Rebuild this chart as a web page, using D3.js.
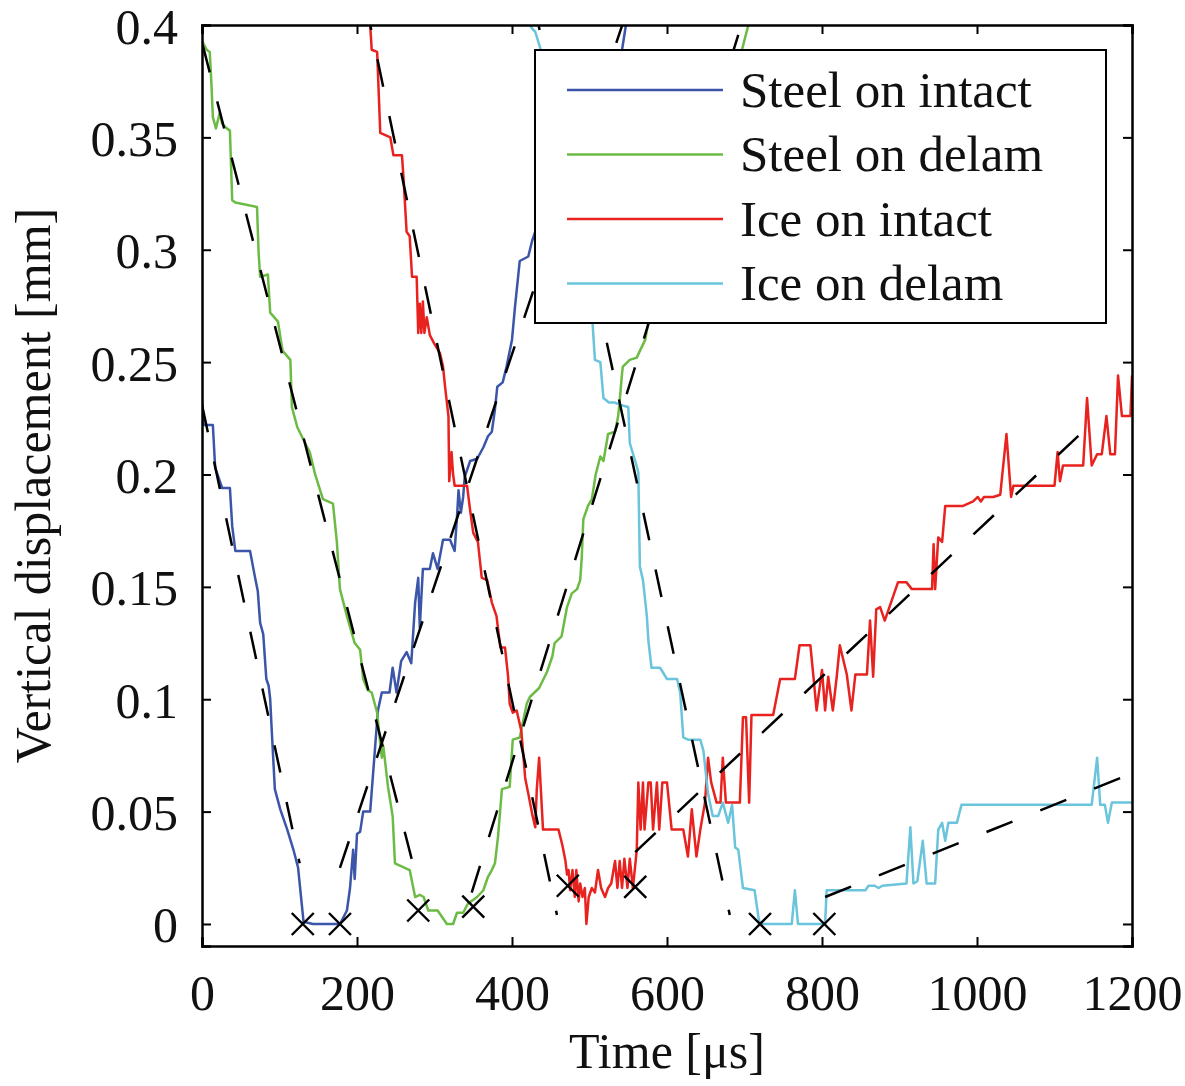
<!DOCTYPE html>
<html>
<head>
<meta charset="utf-8">
<script src="https://cdn.jsdelivr.net/npm/d3@7"></script>
<style>
  body { margin: 0; background: #fff; }
  text { font-family: "Liberation Serif", "Times New Roman", serif; fill: #111; }
</style>
</head>
<body>
<svg id="chart" width="1185" height="1086"></svg>
<script>
// tick values / labels
var xTicks = [0, 200, 400, 600, 800, 1000, 1200]
var yTicks = [0, 0.05, 0.1, 0.15, 0.2, 0.25, 0.3, 0.35, 0.4]
var yTickLabels = ["0", "0.05", "0.1", "0.15", "0.2", "0.25", "0.3", "0.35", "0.4"]

var seriesNames = ["Steel on intact", "Steel on delam", "Ice on intact", "Ice on delam"]

// [time us, displacement mm]
var steelIntact = [[0,0.233],[2,0.222],[14,0.222],[17,0.203],[26,0.194],[36,0.194],[39,0.177],[43,0.166],[62,0.166],[68,0.155],[72,0.148],[75,0.134],[79,0.129],[83,0.109],[86,0.106],[88,0.1],[90,0.086],[94,0.06],[101,0.051],[110,0.042],[118,0.033],[124,0.025],[131,0.001],[143,0],[178,0],[187,0.006],[191,0.016],[195,0.033],[197,0.02],[200,0.04],[204,0.041],[208,0.05],[217,0.05],[223,0.077],[227,0.095],[232,0.103],[242,0.103],[246,0.114],[251,0.103],[257,0.117],[264,0.121],[270,0.116],[275,0.143],[279,0.154],[281,0.132],[285,0.158],[294,0.158],[298,0.165],[304,0.158],[311,0.171],[320,0.171],[326,0.166],[329,0.181],[331,0.193],[334,0.183],[337,0.19],[339,0.199],[346,0.206],[355,0.207],[363,0.212],[369,0.217],[374,0.219],[378,0.229],[381,0.239],[388,0.241],[393,0.248],[400,0.26],[404,0.275],[410,0.295],[421,0.297],[426,0.304],[432,0.31],[450,0.32],[470,0.33],[490,0.345],[510,0.36],[530,0.375],[542,0.389],[547,0.4],[550,0.41]]

var steelDelam = [[0,0.393],[6,0.389],[10,0.388],[12,0.375],[14,0.359],[18,0.354],[23,0.361],[26,0.356],[32,0.354],[36,0.353],[39,0.322],[43,0.321],[71,0.319],[73,0.299],[75,0.288],[85,0.289],[88,0.272],[93,0.27],[98,0.268],[104,0.255],[114,0.251],[116,0.23],[123,0.221],[133,0.214],[139,0.21],[146,0.2],[156,0.189],[169,0.187],[174,0.17],[178,0.149],[187,0.137],[197,0.125],[204,0.122],[208,0.109],[214,0.104],[219,0.103],[226,0.094],[230,0.08],[232,0.074],[234,0.079],[240,0.061],[246,0.048],[249,0.027],[268,0.024],[275,0.012],[281,0.013],[286,0.012],[292,0.006],[304,0.006],[310,0.003],[316,0],[324,0],[329,0.005],[337,0.005],[343,0.009],[355,0.012],[363,0.015],[369,0.021],[374,0.024],[378,0.027],[382,0.039],[387,0.06],[397,0.061],[401,0.082],[410,0.083],[419,0.098],[423,0.101],[435,0.105],[445,0.112],[452,0.119],[455,0.125],[464,0.128],[471,0.141],[477,0.147],[484,0.149],[488,0.153],[490,0.163],[492,0.18],[498,0.186],[503,0.189],[508,0.2],[514,0.208],[518,0.206],[524,0.218],[533,0.219],[537,0.226],[539,0.233],[542,0.245],[543,0.248],[552,0.251],[561,0.252],[565,0.255],[572,0.26],[577,0.27],[590,0.285],[610,0.305],[630,0.325],[650,0.34],[670,0.36],[690,0.38],[705,0.4],[710,0.41]]

var iceIntact = [[215,0.41],[217,0.4],[219,0.389],[226,0.388],[230,0.352],[243,0.35],[247,0.342],[258,0.342],[260,0.332],[264,0.308],[268,0.306],[271,0.288],[277,0.288],[279,0.263],[281,0.276],[283,0.263],[285,0.277],[287,0.263],[290,0.27],[294,0.262],[300,0.258],[307,0.254],[311,0.248],[314,0.238],[318,0.226],[319,0.197],[322,0.21],[324,0.2],[326,0.195],[342,0.195],[346,0.184],[350,0.174],[356,0.17],[361,0.154],[368,0.153],[374,0.143],[380,0.137],[385,0.123],[391,0.123],[395,0.11],[397,0.098],[401,0.094],[406,0.095],[412,0.086],[417,0.065],[421,0.058],[426,0.049],[430,0.043],[432,0.06],[435,0.074],[438,0.055],[440,0.042],[460,0.042],[465,0.035],[469,0.028],[471,0.022],[473,0.024],[475,0.015],[478,0.024],[481,0.012],[483,0.024],[486,0.01],[488,0.018],[491,0.012],[494,0.016],[496,0],[499,0.012],[503,0.016],[507,0.014],[511,0.024],[515,0.016],[520,0.012],[524,0.016],[528,0.018],[533,0.028],[536,0.016],[539,0.028],[542,0.016],[545,0.029],[549,0.016],[552,0.029],[556,0.016],[561,0.033],[563,0.063],[566,0.042],[569,0.063],[571,0.042],[576,0.063],[579,0.063],[582,0.042],[587,0.063],[590,0.042],[594,0.063],[600,0.063],[606,0.042],[621,0.042],[627,0.03],[632,0.051],[638,0.03],[643,0.042],[649,0.054],[653,0.074],[657,0.063],[664,0.054],[669,0.054],[672,0.074],[676,0.054],[694,0.054],[698,0.092],[702,0.092],[706,0.054],[709,0.093],[737,0.093],[746,0.109],[765,0.109],[771,0.124],[785,0.124],[789,0.11],[793,0.095],[800,0.113],[804,0.095],[808,0.11],[814,0.095],[819,0.11],[823,0.124],[832,0.111],[838,0.095],[843,0.111],[858,0.111],[862,0.135],[866,0.11],[870,0.14],[875,0.141],[881,0.135],[890,0.144],[898,0.152],[909,0.152],[916,0.149],[942,0.149],[944,0.169],[946,0.149],[950,0.172],[955,0.17],[959,0.186],[982,0.186],[995,0.188],[1001,0.19],[1005,0.188],[1009,0.19],[1021,0.19],[1030,0.191],[1038,0.218],[1044,0.19],[1047,0.195],[1100,0.195],[1104,0.21],[1107,0.197],[1111,0.204],[1137,0.204],[1142,0.234],[1148,0.204],[1155,0.209],[1161,0.209],[1167,0.226],[1172,0.209],[1178,0.209],[1182,0.244],[1187,0.226],[1198,0.226],[1200,0.244]]

var iceDelam = [[420,0.41],[423,0.4],[427,0.398],[430,0.397],[445,0.38],[460,0.355],[475,0.33],[490,0.3],[500,0.28],[504,0.267],[507,0.251],[514,0.25],[518,0.234],[525,0.232],[533,0.232],[539,0.231],[550,0.23],[552,0.214],[559,0.206],[563,0.201],[565,0.159],[569,0.153],[574,0.137],[576,0.126],[580,0.114],[591,0.114],[600,0.109],[613,0.109],[617,0.103],[621,0.083],[627,0.082],[643,0.082],[647,0.077],[653,0.058],[659,0.048],[666,0.048],[672,0.054],[679,0.045],[684,0.053],[688,0.034],[692,0.033],[698,0.016],[713,0.015],[718,0.003],[720,0],[761,0],[765,0.015],[769,0],[804,0],[806,0.015],[856,0.015],[860,0.017],[868,0.017],[873,0.016],[878,0.017],[909,0.018],[914,0.043],[918,0.018],[923,0.019],[930,0.037],[935,0.018],[946,0.018],[950,0.042],[955,0.045],[959,0.037],[963,0.045],[974,0.045],[980,0.053],[1148,0.053],[1155,0.074],[1159,0.053],[1165,0.053],[1169,0.045],[1174,0.054],[1200,0.054]]

// dashed linear fits: [t0, v0, t1, v1]
var fitLines = [
    [0, 0.231, 126, 0.027],
    [178, 0.025, 552, 0.41],
    [1, 0.391, 272, 0.027],
    [348, 0.014, 705, 0.41],
    [211, 0.41, 458, 0.004],
    [559, 0.032, 1158, 0.226],
    [428, 0.41, 681, 0.004],
    [804, 0.012, 1200, 0.067]
]

// contact start / end markers
var markers = [[130,0],[178,0],[279,0.006],[350,0.0077],[472,0.017],[559,0.0165],[720,0],[803,0]]

var seriesColors = ["#3b55a9", "#6cbb44", "#e8221f", "#6ac4db"]
var allSeries = [steelIntact, steelDelam, iceIntact, iceDelam]

var svg = d3.select("#chart")
var plotLeft = 202, plotRight = 1132, plotTop = 25, plotBottom = 946

var x = d3.scaleLinear().domain([0, 1200]).range([plotLeft, plotRight])
var y = d3.scaleLinear().domain([-0.0098, 0.4]).range([plotBottom, plotTop])

svg.append("defs").append("clipPath").attr("id", "plotClip")
    .append("rect")
    .attr("x", plotLeft).attr("y", plotTop)
    .attr("width", plotRight - plotLeft).attr("height", plotBottom - plotTop)

var plot = svg.append("g").attr("clip-path", "url(#plotClip)")

var valueLine = d3.line()
    .x(function(d){ return x(d[0]) })
    .y(function(d){ return y(d[1]) })

allSeries.forEach(function(s, i){
    plot.append("path")
        .datum(s)
        .attr("fill", "none")
        .attr("stroke", seriesColors[i])
        .attr("stroke-width", 2.5)
        .attr("stroke-linejoin", "round")
        .attr("d", valueLine)
})

plot.selectAll(".fit")
    .data(fitLines)
    .enter().append("line")
    .attr("class", "fit")
    .attr("x1", function(d){ return x(d[0]) })
    .attr("y1", function(d){ return y(d[1]) })
    .attr("x2", function(d){ return x(d[2]) })
    .attr("y2", function(d){ return y(d[3]) })
    .attr("stroke", "#000")
    .attr("stroke-width", 2.5)
    .attr("stroke-dasharray", "28,30")

var cross = 11
markers.forEach(function(m){
    var cx = x(m[0]), cy = y(m[1])
    svg.append("path")
        .attr("d", "M" + (cx - cross) + "," + (cy - cross) + "L" + (cx + cross) + "," + (cy + cross) +
                   "M" + (cx - cross) + "," + (cy + cross) + "L" + (cx + cross) + "," + (cy - cross))
        .attr("stroke", "#000")
        .attr("stroke-width", 2.4)
        .attr("fill", "none")
})

// axes, MATLAB style box with inward ticks
var fontSize = 50

var xAxis = svg.append("g").attr("transform", "translate(0," + plotBottom + ")")
    .call(d3.axisBottom(x).tickValues(xTicks).tickSize(-9).tickPadding(28).tickFormat(d3.format("d")))
var yAxis = svg.append("g").attr("transform", "translate(" + plotLeft + ",0)")
    .call(d3.axisLeft(y).tickValues(yTicks).tickSize(-9).tickPadding(24)
        .tickFormat(function(d, i){ return yTickLabels[i] }))
var xTop = svg.append("g").attr("transform", "translate(0," + plotTop + ")")
    .call(d3.axisTop(x).tickValues(xTicks).tickSize(-9).tickFormat(""))
var yRight = svg.append("g").attr("transform", "translate(" + plotRight + ",0)")
    .call(d3.axisRight(y).tickValues(yTicks).tickSize(-9).tickFormat(""))

;[xAxis, yAxis, xTop, yRight].forEach(function(g){
    g.select(".domain").attr("stroke", "#000").attr("stroke-width", 2.5)
    g.selectAll(".tick line").attr("stroke", "#000").attr("stroke-width", 2)
    g.selectAll("text").attr("font-size", fontSize).attr("font-family", "Liberation Serif").attr("fill", "#111")
})
// keep the top label inside the picture
yAxis.selectAll("text").attr("dy", "0.36em")

svg.append("text")
    .attr("x", (plotLeft + plotRight) / 2)
    .attr("y", 1068)
    .attr("text-anchor", "middle")
    .attr("font-size", fontSize)
    .text("Time [\u03bcs]")

svg.append("text")
    .attr("transform", "translate(50," + ((plotTop + plotBottom) / 2) + ") rotate(-90)")
    .attr("text-anchor", "middle")
    .attr("font-size", fontSize)
    .text("Vertical displacement [mm]")

// legend
var legend = svg.append("g")
legend.append("rect")
    .attr("x", 535).attr("y", 50)
    .attr("width", 571).attr("height", 273)
    .attr("fill", "#fff")
    .attr("stroke", "#000")
    .attr("stroke-width", 2)

seriesNames.forEach(function(name, i){
    var ly = 90 + i * 64.5
    legend.append("line")
        .attr("x1", 567).attr("x2", 723)
        .attr("y1", ly).attr("y2", ly)
        .attr("stroke", seriesColors[i])
        .attr("stroke-width", 2.5)
    legend.append("text")
        .attr("x", 740).attr("y", ly)
        .attr("dy", "0.33em")
        .attr("font-size", 51)
        .text(name)
})
</script>
</body>
</html>
